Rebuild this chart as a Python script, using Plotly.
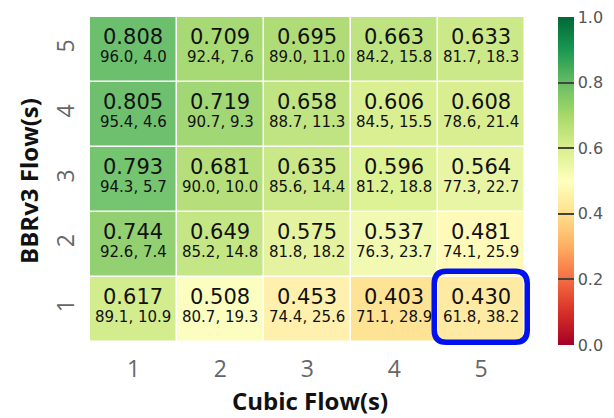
import plotly.graph_objects as go

cubic_flows = [1, 2, 3, 4, 5]
bbr_flows = [1, 2, 3, 4, 5]

# Fairness index per (BBRv3 flows row, Cubic flows column), rows listed from 1 to 5
fairness = [
    [0.617, 0.508, 0.453, 0.403, 0.430],
    [0.744, 0.649, 0.575, 0.537, 0.481],
    [0.793, 0.681, 0.635, 0.596, 0.564],
    [0.805, 0.719, 0.658, 0.606, 0.608],
    [0.808, 0.709, 0.695, 0.663, 0.633],
]

# Throughput share (BBRv3 %, Cubic %)
bbr_share = [
    [89.1, 80.7, 74.4, 71.1, 61.8],
    [92.6, 85.2, 81.8, 76.3, 74.1],
    [94.3, 90.0, 85.6, 81.2, 77.3],
    [95.4, 90.7, 88.7, 84.5, 78.6],
    [96.0, 92.4, 89.0, 84.2, 81.7],
]
cubic_share = [
    [10.9, 19.3, 25.6, 28.9, 38.2],
    [7.4, 14.8, 18.2, 23.7, 25.9],
    [5.7, 10.0, 14.4, 18.8, 22.7],
    [4.6, 9.3, 11.3, 15.5, 21.4],
    [4.0, 7.6, 11.0, 15.8, 18.3],
]

highlight = (5, 1)  # (cubic, bbr)

fig = go.Figure()
fig.add_trace(go.Heatmap(
    x=cubic_flows, y=bbr_flows, z=fairness,
    colorscale="RdYlGn", zmin=0, zmax=1,
    xgap=1.5, ygap=1.5, opacity=0.92,
    hoverinfo="skip",
    colorbar=dict(
        thickness=16, len=1.0, lenmode="fraction", x=1.064, xanchor="left",
        y=0.5, yanchor="middle",
        outlinewidth=0, xpad=0, ypad=0,
        tickvals=[0, 0.2, 0.4, 0.6, 0.8, 1.0],
        ticktext=["0.0", "0.2", "0.4", "0.6", "0.8", "1.0"],
        ticks="inside", ticklen=16, tickwidth=2, tickcolor="#444",
        tickfont=dict(family="DejaVu Sans", size=16, color="#555"),
    ),
))

for i, b in enumerate(bbr_flows):
    for j, c in enumerate(cubic_flows):
        fig.add_annotation(
            x=c, y=b, xref="x", yref="y", showarrow=False, yshift=12,
            text=f"{fairness[i][j]:.3f}",
            font=dict(family="DejaVu Sans", size=21, color="#111"),
        )
        fig.add_annotation(
            x=c, y=b, xref="x", yref="y", showarrow=False, yshift=-8,
            text=f"{bbr_share[i][j]:.1f}, {cubic_share[i][j]:.1f}",
            font=dict(family="DejaVu Sans", size=15, color="#111"),
        )

# Rounded outline around the highlighted cell
cx, cy = highlight
x0, x1 = cx - 0.54, cx + 0.53
y0, y1 = cy - 0.51, cy + 0.585
rx, ry = 0.14, 0.19
path = (
    f"M {x0+rx},{y0} L {x1-rx},{y0} Q {x1},{y0} {x1},{y0+ry} "
    f"L {x1},{y1-ry} Q {x1},{y1} {x1-rx},{y1} "
    f"L {x0+rx},{y1} Q {x0},{y1} {x0},{y1-ry} "
    f"L {x0},{y0+ry} Q {x0},{y0} {x0+rx},{y0} Z"
)
fig.add_shape(type="path", path=path, xref="x", yref="y",
              line=dict(color="#0011ee", width=5.5), fillcolor="rgba(0,0,0,0)")

fig.update_layout(
    width=614, height=418,
    margin=dict(l=90, r=84, t=17, b=73, autoexpand=False),
    paper_bgcolor="white", plot_bgcolor="white",
    xaxis=dict(
        tickvals=cubic_flows, showgrid=False, zeroline=False, ticks="",
        ticklabelstandoff=8,
        tickfont=dict(family="Open Sans", size=23, color="#666"),
        title=dict(text="<b>Cubic Flow(s)</b>", standoff=2,
                   font=dict(family="Open Sans", size=24, color="#111")),
    ),
    yaxis=dict(
        tickvals=bbr_flows, showgrid=False, zeroline=False, ticks="",
        tickangle=-90, ticklabelstandoff=10,
        tickfont=dict(family="Open Sans", size=23, color="#666"),
        title=dict(text="<b>BBRv3 Flow(s)</b>", standoff=4,
                   font=dict(family="Open Sans", size=24, color="#111")),
    ),
)

fig.write_html("out.html")
